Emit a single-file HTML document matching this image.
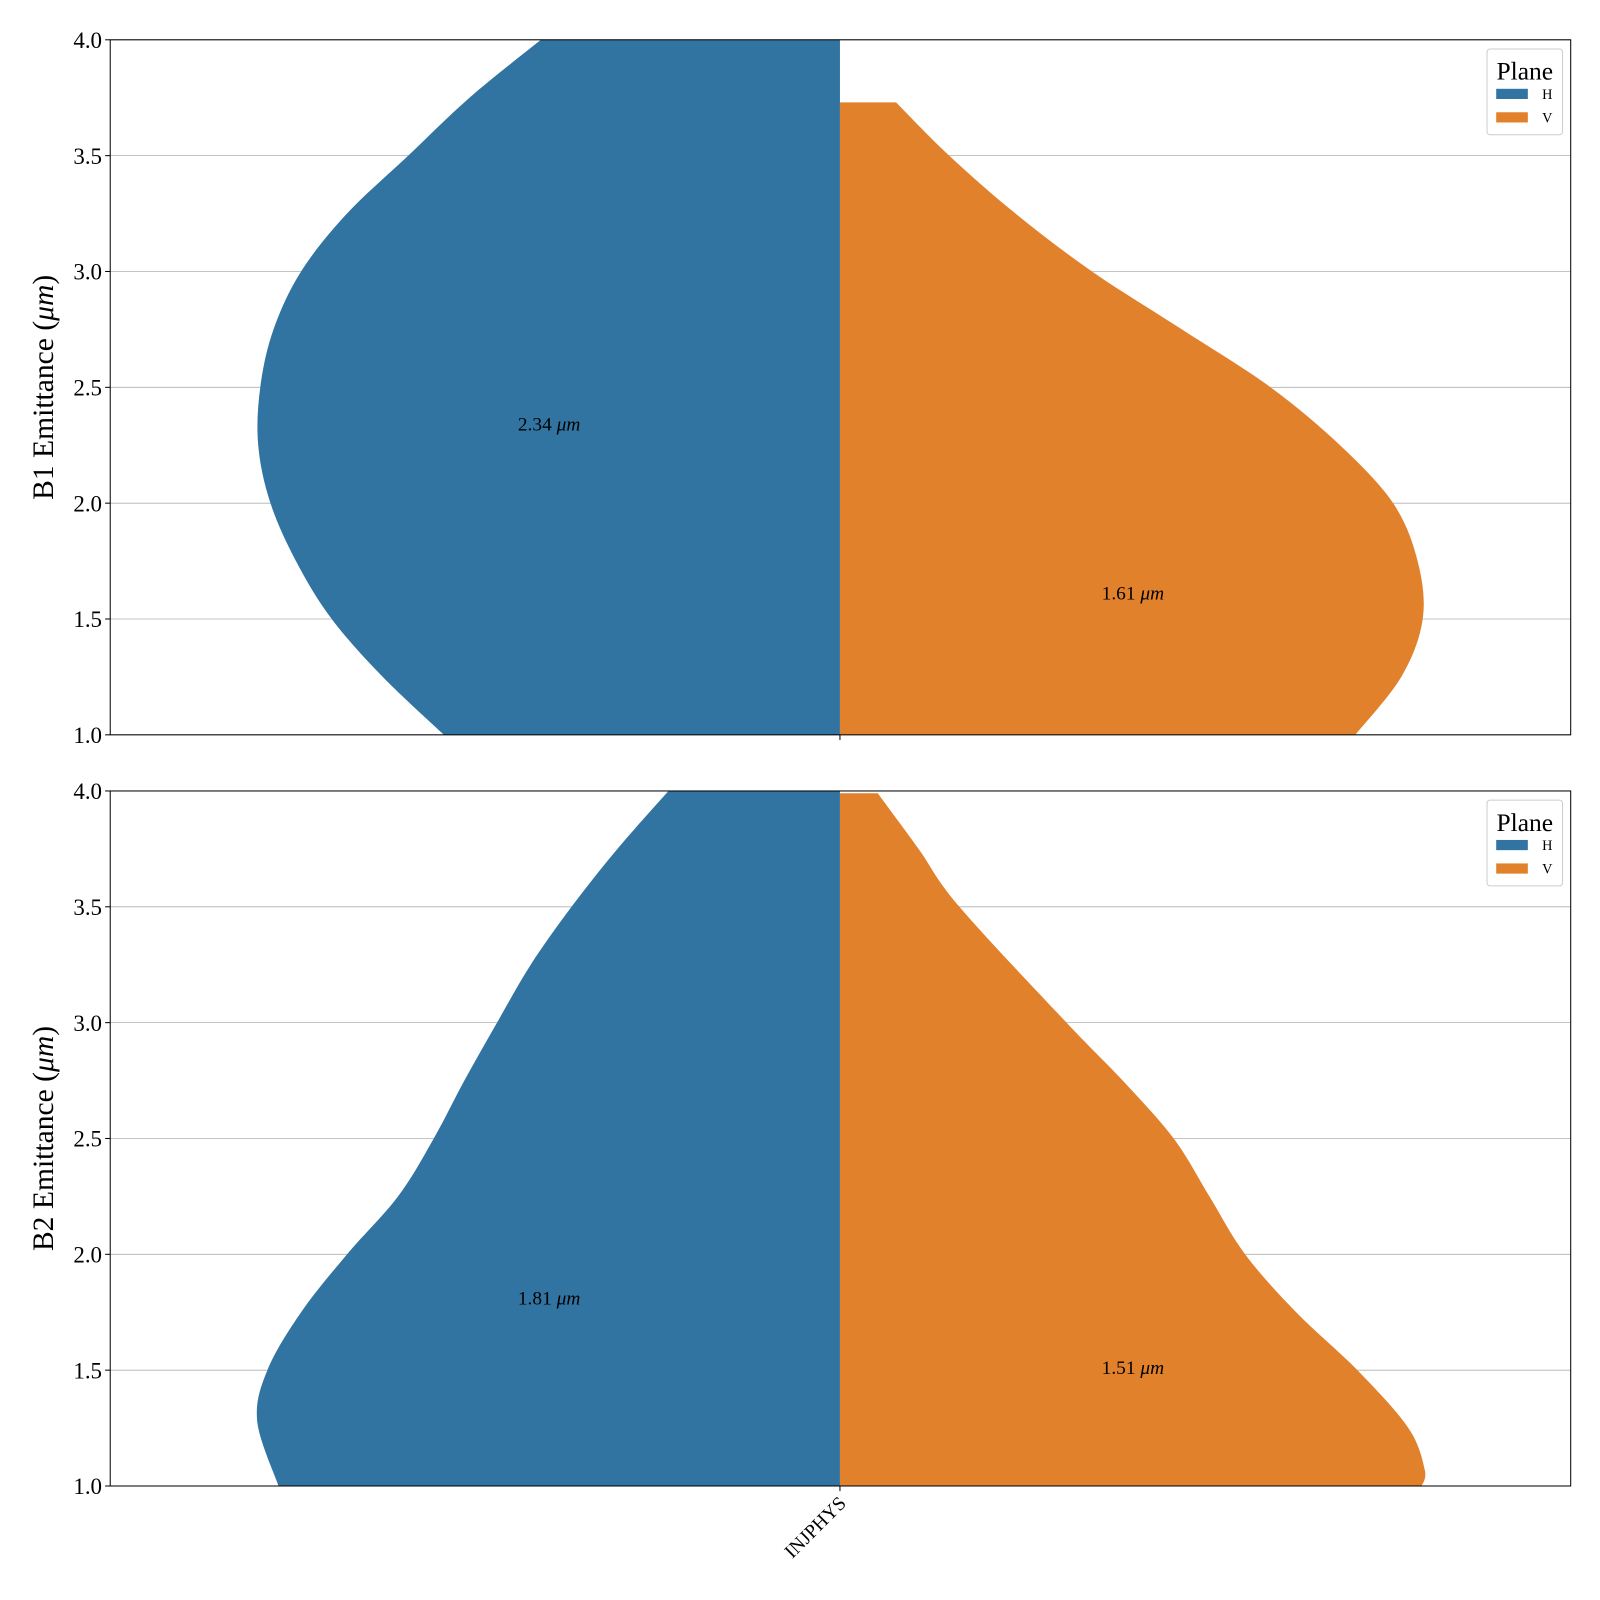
<!DOCTYPE html>
<html><head><meta charset="utf-8"><style>
body{margin:0;background:#fff}
svg{display:block;font-family:"Liberation Serif",serif}
</style></head><body>
<svg id="c" width="1600" height="1600" xmlns="http://www.w3.org/2000/svg"><g id="root" transform="scale(1.0206)"></g></svg>
<script>
const yTicks = [1.0,1.5,2.0,2.5,3.0,3.5,4.0];
const category = "INJPHYS";
// half-width profiles (relative density units)
const b1Hy = [4.0,3.75,3.5,3.25,3.0,2.75,2.5,2.25,2.0,1.75,1.5,1.25,1.0];
const b1Hw = [293,363,423,483,528,555,568,570,558,533,498,448,388];
const b1Vy = [3.73,3.5,3.25,3.0,2.75,2.5,2.25,2.0,1.75,1.5,1.25,1.0];
const b1Vw = [55,107,172,247,335,422,490,542,566,571,550,505];
const b2Hy = [4.0,3.75,3.5,3.25,3.0,2.75,2.5,2.25,2.0,1.75,1.5,1.28,1.0];
const b2Hw = [168,218,263,303,336,368,398,433,483,528,561,571,550];
const b2Vy = [3.99,3.75,3.5,3.0,2.75,2.5,2.25,2.0,1.75,1.5,1.25,1.07,1.0];
const b2Vw = [37,77,117,222,277,327,362,397,447,507,557,573,570];
const medians = [[2.34,1.61],[1.81,1.51]];
const panelLabels = ["B1","B2"];

const NS="http://www.w3.org/2000/svg";
const svg=document.getElementById('root');
function mk(t,a,p){const e=document.createElementNS(NS,t);for(const k in a)e.setAttribute(k,a[k]);(p||svg).appendChild(e);return e;}
const X0=108,X1=1539,CX=823,WSCALE=1;
const panels=[{top:39,bot:720,H:[b1Hy,b1Hw],V:[b1Vy,b1Vw]},{top:775,bot:1456,H:[b2Hy,b2Hw],V:[b2Vy,b2Vw]}];
function smooth(pts){
  let d='';
  for(let k=0;k<pts.length-1;k++){
    const p0=pts[Math.max(0,k-1)],p1=pts[k],p2=pts[k+1],p3=pts[Math.min(pts.length-1,k+2)];
    const c1=[p1[0]+(p2[0]-p0[0])/6,p1[1]+(p2[1]-p0[1])/6];
    const c2=[p2[0]-(p3[0]-p1[0])/6,p2[1]-(p3[1]-p1[1])/6];
    d+=` C${c1[0]},${c1[1]} ${c2[0]},${c2[1]} ${p2[0]},${p2[1]}`;
  }
  return d;
}
panels.forEach((p,i)=>{
  const y=v=>p.bot-(v-1)/3*(p.bot-p.top);
  const g=mk('g',{});
  
  
  const clip=mk('clipPath',{id:'cl'+i},g);mk('rect',{x:X0,y:p.top,width:X1-X0,height:p.bot-p.top},clip);
  yTicks.forEach(t=>{
    const l=mk('line',{x1:X0,x2:X1,y1:y(t),y2:y(t),stroke:'#b0b0b0','stroke-width':0.8},g);
    
    mk('line',{x1:X0-5,x2:X0,y1:y(t),y2:y(t),stroke:'#000'},g);
    const tx=mk('text',{x:X0-8,y:y(t)+8,'text-anchor':'end','font-size':22.5},g);tx.textContent=t.toFixed(1);
    
  });
  function half(arr,sign,color,name){
    const pts=arr[0].map((v,k)=>[CX+sign*arr[1][k]*WSCALE,y(v)]);
    let d='M'+CX+','+pts[0][1]+' L'+pts[0][0]+','+pts[0][1]+smooth(pts);
    d+=' L'+CX+','+pts[pts.length-1][1]+'Z';
    const pa=mk('path',{d:d,fill:color,'clip-path':'url(#cl'+i+')'},g);
    
  }
  half(p.H,-1,'#3274a1','violin-h');
  half(p.V,1,'#e1812c','violin-v');
  const m=medians[i];
  [[538,m[0]],[1110,m[1]]].forEach(([xx,v])=>{
    const t=mk('text',{x:xx,y:y(v)+6,'text-anchor':'middle','font-size':19},g);
    t.innerHTML=v.toFixed(2)+' <tspan font-style="italic">μm</tspan>';
    
  });
  mk('rect',{x:X0,y:p.top,width:X1-X0,height:p.bot-p.top,fill:'none',stroke:'#000','stroke-width':1},g);
  mk('line',{x1:CX,x2:CX,y1:p.bot,y2:p.bot+5,stroke:'#000'},g);
  const yl=mk('text',{x:0,y:0,'text-anchor':'middle','font-size':29,transform:`translate(52,${(p.top+p.bot)/2}) rotate(-90)`},g);
  yl.innerHTML=panelLabels[i]+' Emittance (<tspan font-style="italic">μm</tspan>)';
  
  const lg=mk('g',{},g);
  
  const ly=p.top+9;
  mk('rect',{x:1457,y:ly,width:74,height:84,rx:3,fill:'#fff',stroke:'#ccc','fill-opacity':0.8},lg);
  const lt=mk('text',{x:1494,y:ly+30,'text-anchor':'middle','font-size':25},lg);lt.textContent='Plane';
  [['H','#3274a1',0],['V','#e1812c',23]].forEach(([n,c,o])=>{
    mk('rect',{x:1466,y:ly+39+o,width:31,height:10,fill:c},lg);
    const t=mk('text',{x:1511,y:ly+49+o,'font-size':14},lg);t.textContent=n;
    
  });
});
const xl=mk('text',{x:0,y:0,'text-anchor':'end','font-size':19,transform:'translate(830,1474) rotate(-45)'});
xl.textContent=category;

</script>
</body></html>
